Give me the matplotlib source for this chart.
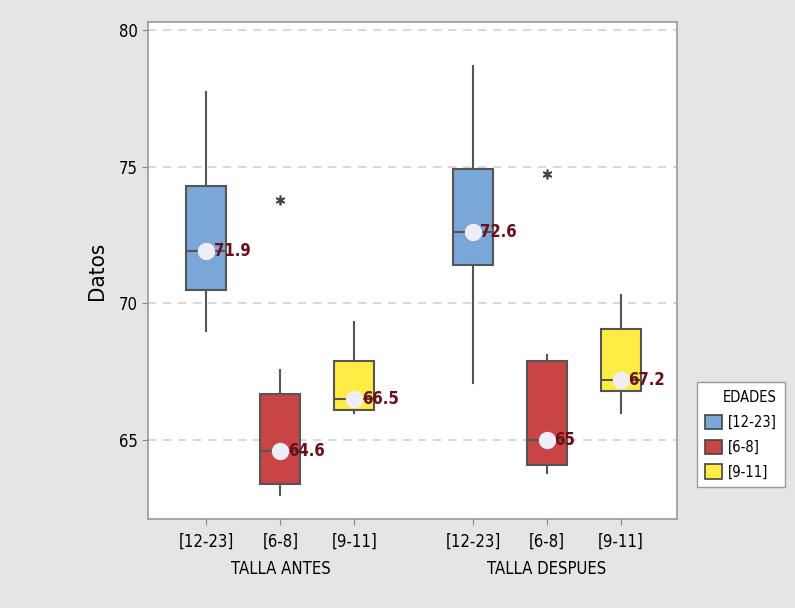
import matplotlib
matplotlib.use('Agg')
import matplotlib.pyplot as plt
from matplotlib.patches import Patch
import matplotlib.transforms as mtransforms

plt.rcParams['font.family'] = ['DejaVu Sans']
plt.rcParams['font.stretch'] = 'condensed'

# data
groups = ['TALLA ANTES', 'TALLA DESPUES']
ages = ['[12-23]', '[6-8]', '[9-11]']
colors = ['#7aa6d8', '#c94545', '#ffec44']
positions = [1, 2, 3, 4.6, 5.6, 6.6]

whislo = [69.0, 63.0, 66.0, 67.1, 63.8, 66.0]
q1 = [70.5, 63.4, 66.1, 71.4, 64.1, 66.8]
med = [71.9, 64.6, 66.5, 72.6, 65.0, 67.2]
q3 = [74.3, 66.7, 67.9, 74.9, 67.9, 69.05]
whishi = [77.75, 67.55, 69.3, 78.7, 68.1, 70.3]
means = [71.9, 64.6, 66.5, 72.6, 65.0, 67.2]
mean_labels = ['71.9', '64.6', '66.5', '72.6', '65', '67.2']
outliers = [[], [73.8], [], [], [74.75], []]

stats = []
for i in range(len(positions)):
    stats.append(dict(whislo=whislo[i], q1=q1[i], med=med[i], q3=q3[i],
                      whishi=whishi[i], fliers=outliers[i], mean=means[i]))

fig = plt.figure(figsize=(7.95, 6.08), dpi=100, facecolor='#e5e5e5')
ax = fig.add_axes([0.186, 0.146, 0.666, 0.818])

edge = '#555555'
bp = ax.bxp(stats, positions=positions, widths=0.54, patch_artist=True,
            showcaps=False, showfliers=True,
            boxprops=dict(edgecolor=edge, linewidth=1.5),
            medianprops=dict(color=edge, linewidth=1.5),
            whiskerprops=dict(color=edge, linewidth=1.5),
            flierprops=dict(marker=(6, 2, 0), markersize=7, markeredgecolor='#444444',
                            markeredgewidth=1.2, linestyle='none'))
for i, box in enumerate(bp['boxes']):
    box.set_facecolor(colors[i % 3])

# mean markers and labels
ax.plot(positions, means, 'o', color='#efedf8', markersize=11.5, zorder=5,
        linestyle='none')
for x, m, lab in zip(positions, means, mean_labels):
    ax.text(x + 0.1, m, lab, color='#6b0f1a', fontsize=12, fontweight='bold',
            va='center', ha='left', zorder=6)

ax.set_ylim(62.1, 80.3)
ax.set_xlim(0.21, 7.36)
ax.set_yticks([65, 70, 75, 80])
ax.yaxis.grid(True, linestyle=(0, (5, 4)), color='#d2d2d2', linewidth=1.2)
ax.set_axisbelow(True)
ax.set_xticks(positions)
ax.set_xticklabels(ages * 2)
ax.tick_params(axis='both', labelsize=12, color='#888888', length=4)
ax.tick_params(axis='x', pad=6)
ax.set_ylabel('Datos', fontsize=16, labelpad=8)
for s in ax.spines.values():
    s.set_color('#999999')
    s.set_linewidth(1.2)

trans = mtransforms.blended_transform_factory(ax.transData, ax.transAxes)
ax.text(2, -0.1, groups[0], transform=trans, ha='center', va='center', fontsize=12)
ax.text(5.6, -0.1, groups[1], transform=trans, ha='center', va='center', fontsize=12)

handles = [Patch(facecolor=c, edgecolor='#444444', linewidth=1.2) for c in colors]
leg = fig.legend(handles, ages, title='EDADES', loc='upper left',
                 bbox_to_anchor=(0.877, 0.371), fontsize=10.5, title_fontsize=10.5,
                 frameon=True, fancybox=False, edgecolor='#999999', framealpha=1,
                 handlelength=1.15, handleheight=1.15, labelspacing=0.65,
                 borderpad=0.55, handletextpad=0.4, borderaxespad=0)
leg._legend_box.align = 'right'

fig.savefig('out.png', dpi=100, facecolor=fig.get_facecolor())
